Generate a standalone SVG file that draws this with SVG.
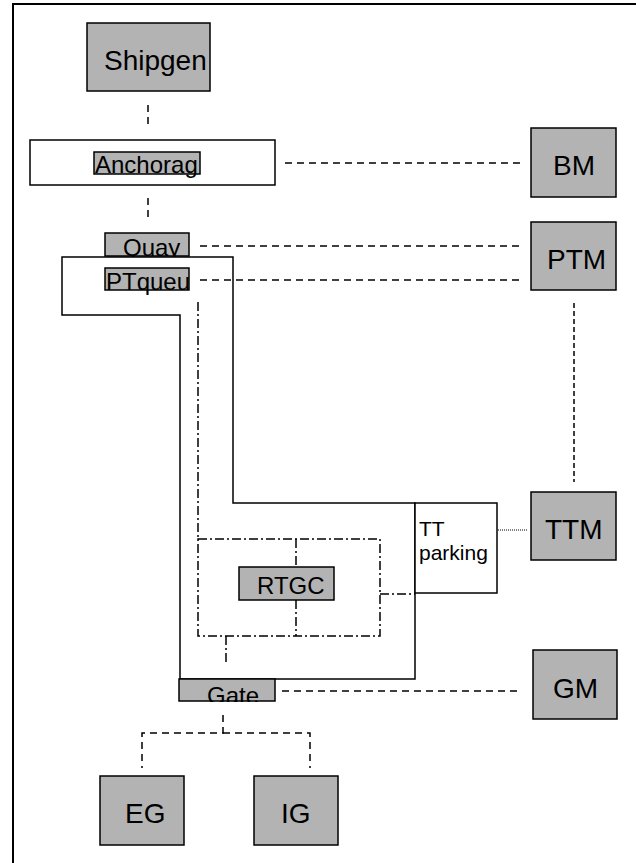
<svg xmlns="http://www.w3.org/2000/svg" width="636" height="863" viewBox="0 0 636 863">
<style>
.bg{fill:#ffffff}
.box{fill:#b3b3b3;stroke:#000;stroke-width:1.5}
.wbox{fill:#ffffff;stroke:#000;stroke-width:1.5}
.big{font-family:"Liberation Sans",Arial,sans-serif;font-size:28px;fill:#000}
.sm{font-family:"Liberation Sans",Arial,sans-serif;font-size:24px;fill:#000}
.dash{fill:none;stroke:#000;stroke-width:1.5;stroke-dasharray:7,5}
.fdash{fill:none;stroke:#000;stroke-width:1.5;stroke-dasharray:5,3}
.dd{fill:none;stroke:#000;stroke-width:1.5;stroke-dasharray:9,3,2,3}
.dot{fill:none;stroke:#000;stroke-width:1;stroke-dasharray:1,1}
.solid{fill:none;stroke:#000;stroke-width:1.5}
</style>
<defs>
<clipPath id="cAnch"><rect x="94" y="150" width="106" height="40"/></clipPath>
<clipPath id="cQuay"><rect x="105" y="230" width="84" height="27"/></clipPath>
<clipPath id="cPTq"><rect x="105" y="265" width="84" height="30"/></clipPath>
<clipPath id="cGate"><rect x="179" y="679" width="96" height="23"/></clipPath>
<clipPath id="cTT"><rect x="415" y="503" width="82" height="90"/></clipPath>
</defs>
<rect class="bg" x="0" y="0" width="636" height="863"/>
<g id="frame">
<line x1="12" y1="4" x2="636" y2="4" stroke="#000" stroke-width="2"/>
<line x1="13" y1="3" x2="13" y2="863" stroke="#000" stroke-width="2"/>
</g>
<g id="connectors">
<line class="dash" x1="148" y1="105" x2="148" y2="125"/>
<line class="dash" x1="148" y1="198" x2="148" y2="218"/>
<line class="dash" x1="285" y1="163" x2="522" y2="163"/>
<line class="dash" x1="200" y1="246" x2="522" y2="246"/>
<line class="dash" x1="200" y1="280" x2="522" y2="280"/>
<line class="fdash" x1="574" y1="303" x2="574" y2="482"/>
<line class="dot" x1="498" y1="530" x2="527" y2="530"/>
<line class="dash" x1="282" y1="691" x2="521" y2="691"/>
<polyline class="dash" points="223,715 223,733 142,733 142,768"/>
<polyline class="dash" points="223,733 310,733 310,768"/>
<line class="dd" x1="198" y1="302" x2="198" y2="539"/>
<rect class="dd" x="198" y="539" width="182" height="97"/>
<line class="dd" x1="296" y1="539" x2="296" y2="567"/>
<line class="dd" x1="296" y1="600" x2="296" y2="636"/>
<line class="dd" x1="380" y1="594" x2="415" y2="594"/>
<line class="dd" x1="226" y1="636" x2="226" y2="665"/>
</g>
<g id="yard">
<polygon class="solid" points="62,257 233,257 233,503 415,503 415,679 180,679 180,315 62,315"/>
</g>
<g id="shipgen">
<rect class="box" x="87" y="23" width="123" height="68"/>
<text class="big" x="104" y="70">Shipgen</text>
</g>
<g id="anchorage">
<rect class="wbox" x="30" y="140" width="245" height="45"/>
<rect class="box" x="94" y="152" width="106" height="22"/>
<text class="sm" x="95" y="173" clip-path="url(#cAnch)">Anchorag</text>
</g>
<g id="quay">
<rect class="box" x="105" y="233" width="84" height="23"/>
<text class="sm" x="123" y="256" clip-path="url(#cQuay)">Quay</text>
</g>
<g id="ptqueue">
<rect class="box" x="105" y="268" width="84" height="22"/>
<text class="sm" x="106" y="290" clip-path="url(#cPTq)">PTqueu</text>
</g>
<g id="ttparking">
<rect class="wbox" x="415" y="503" width="82" height="90"/>
<text class="sm" x="419" y="536" clip-path="url(#cTT)" style="font-size:21px">TT</text>
<text class="sm" x="419" y="560" clip-path="url(#cTT)" style="font-size:21px">parking</text>
</g>
<g id="rtgc">
<rect class="box" x="239" y="567" width="95" height="33"/>
<text class="sm" x="257" y="594">RTGC</text>
</g>
<g id="gate">
<rect class="box" x="179" y="679" width="96" height="22"/>
<text class="sm" x="207" y="704" clip-path="url(#cGate)">Gate</text>
</g>
<g id="bm">
<rect class="box" x="531" y="128" width="85" height="69"/>
<text class="big" x="553" y="175">BM</text>
</g>
<g id="ptm">
<rect class="box" x="531" y="222" width="85" height="68"/>
<text class="big" x="547" y="269">PTM</text>
</g>
<g id="ttm">
<rect class="box" x="531" y="492" width="85" height="68"/>
<text class="big" x="545" y="539">TTM</text>
</g>
<g id="gm">
<rect class="box" x="533" y="650" width="84" height="69"/>
<text class="big" x="553" y="698">GM</text>
</g>
<g id="eg">
<rect class="box" x="100" y="776" width="84" height="69"/>
<text class="big" x="125" y="823">EG</text>
</g>
<g id="ig">
<rect class="box" x="254" y="776" width="84" height="69"/>
<text class="big" x="281" y="823">IG</text>
</g>
</svg>
